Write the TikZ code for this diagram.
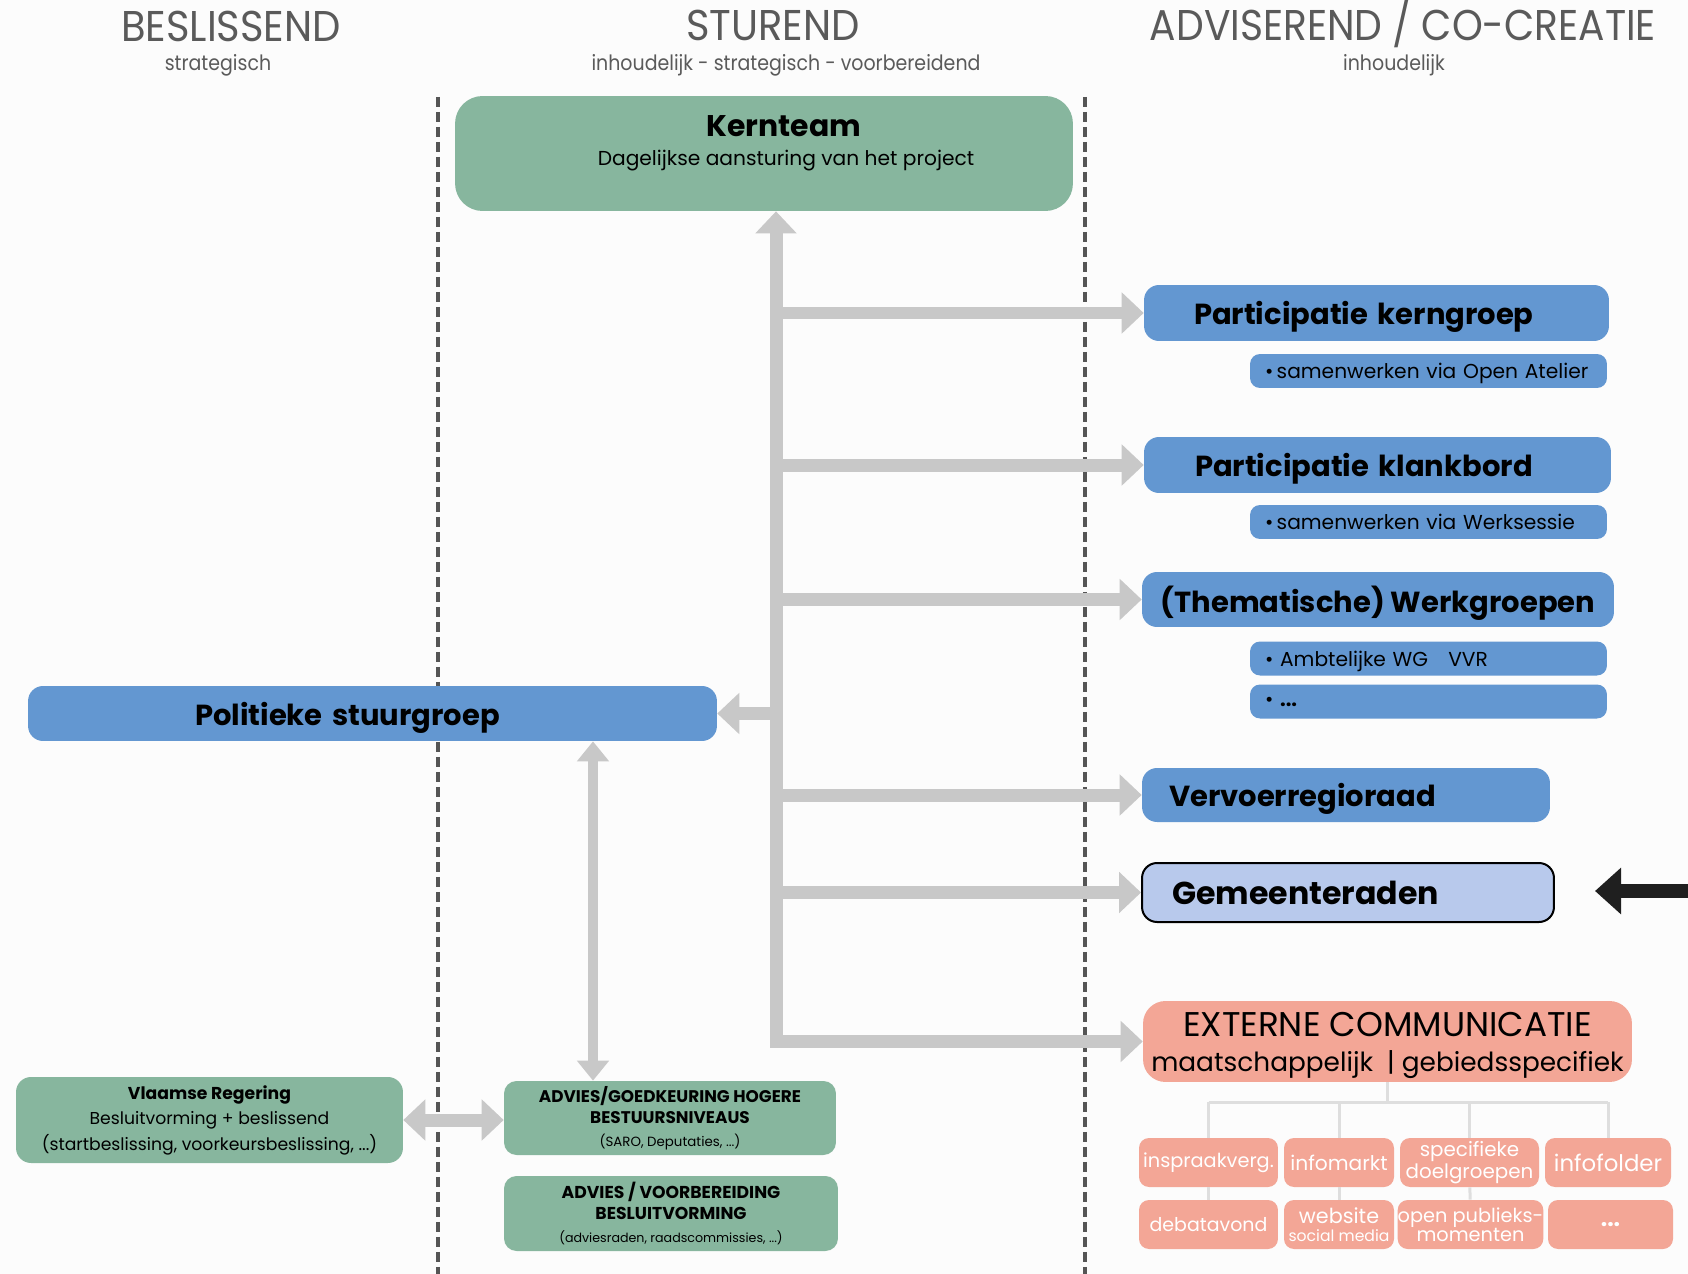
\documentclass[tikz,border=0pt]{standalone}
\usepackage{fontspec}
\setmainfont{Poppins}
\usepackage{graphicx}
\usetikzlibrary{positioning,arrows.meta}
\definecolor{kerngreen}{RGB}{135,182,158}
\definecolor{partblue}{RGB}{99,151,209}
\definecolor{gemblue}{RGB}{184,201,236}
\definecolor{extsalmon}{RGB}{243,166,150}
\definecolor{flowgray}{RGB}{200,200,200}
\definecolor{treegray}{RGB}{222,222,222}
\definecolor{dashgray}{RGB}{85,85,85}
\definecolor{headgray}{RGB}{90,90,90}
\definecolor{pagebg}{RGB}{252,252,252}

\begin{document}
\begin{tikzpicture}[x=0.02cm,y=-0.02cm,
  roundbox/.style={rounded corners=0.3cm,inner sep=0pt},
  greenbox/.style={roundbox,fill=kerngreen,align=center},
  bluebox/.style={roundbox,fill=partblue,text depth=0pt,font=\fontsize{16.5}{19}\selectfont\bfseries},
  subbox/.style={roundbox,rounded corners=0.2cm,fill=partblue,minimum width=7.14cm,minimum height=0.68cm,text width=6.54cm,text depth=0pt,align=left,font=\fontsize{11.5}{13}\selectfont},
  salbox/.style={roundbox,rounded corners=0.2cm,fill=extsalmon,text=white,align=center,minimum height=0.98cm,font=\fontsize{11}{11.5}\selectfont},
  flow/.style={draw=flowgray,line width=0.26cm,-{Triangle[length=0.44cm,width=0.8cm]}},
  flowboth/.style={flow,{Triangle[length=0.44cm,width=0.8cm]}-{Triangle[length=0.44cm,width=0.8cm]}},
  flowthin/.style={draw=flowgray,line width=0.2cm,{Triangle[length=0.4cm,width=0.62cm]}-{Triangle[length=0.4cm,width=0.62cm]}},
  colline/.style={dashgray,line width=0.08cm,dash pattern=on 0.2cm off 0.1cm},
  tree/.style={treegray,line width=0.06cm},
  heading/.style={inner sep=0pt,text=headgray,font=\fontsize{24.5}{26}\selectfont},
  subheading/.style={inner sep=0pt,text=headgray,font=\fontsize{12}{14}\selectfont}]
  \fill[pagebg] (0,0) rectangle (1688,1274);
  \useasboundingbox (0,0) rectangle (1688,1274);

  % column headings
  \node[heading] (hbes) at (231,26) {\scalebox{0.93}[1]{BESLISSEND}};
  \node[subheading] (sbes) at (218,65) {\scalebox{0.9}[1]{strategisch}};
  \node[heading] (hstu) at (773,25) {\scalebox{0.93}[1]{STUREND}};
  \node[subheading] (sstu) at (786,65) {\scalebox{0.9}[1]{inhoudelijk - strategisch - voorbereidend}};
  \node[heading] (hadv) at (1403,24) {\scalebox{0.91}[1]{ADVISEREND / CO-CREATIE}};
  \node[subheading] (sadv) at (1394,65) {\scalebox{0.9}[1]{inhoudelijk}};
  \draw[colline] (438,97) -- (438,1274);
  \draw[colline] (1085,97) -- (1085,1274);

  % sturend
  \node[greenbox,rounded corners=0.55cm,minimum width=12.36cm,minimum height=2.3cm] (kern) at (764,153.5) {};
  \node[font=\fontsize{17}{20}\selectfont\bfseries] (kerntitle) at (784,126) {Kernteam};
  \node[font=\fontsize{11.5}{13}\selectfont] (kernsub) at (786,161) {Dagelijkse aansturing van het project};
  \node[bluebox,minimum width=13.78cm,minimum height=1.1cm,text width=7.1cm,align=left] (pol) at (372.5,713.5) {Politieke stuurgroep};
  \node[greenbox,rounded corners=0.25cm,minimum width=6.64cm,minimum height=1.48cm,font=\fontsize{9.6}{12}\selectfont\bfseries] (advhog) at (670,1118)
    {ADVIES/GOEDKEURING HOGERE\\BESTUURSNIVEAUS\\[1pt]{\fontsize{7.6}{8}\selectfont\mdseries (SARO, Deputaties, ...)}};
  \node[greenbox,rounded corners=0.25cm,minimum width=6.68cm,minimum height=1.5cm,font=\fontsize{9.8}{12}\selectfont\bfseries] (advvb) at (671,1213.5)
    {ADVIES / VOORBEREIDING\\BESLUITVORMING\\[1pt]{\fontsize{7.2}{8}\selectfont\mdseries (adviesraden, raadscommissies, ...)}};

  % beslissend
  \node[greenbox,rounded corners=0.3cm,minimum width=7.74cm,minimum height=1.72cm,font=\fontsize{9.8}{14.5}\selectfont] (vr) at (209.5,1120)
    {{\bfseries Vlaamse Regering}\\Besluitvorming + beslissend\\(startbeslissing, voorkeursbeslissing, ...)};

  % adviserend / co-creatie
  \node[bluebox,minimum width=9.3cm,minimum height=1.12cm,text width=7.3cm,align=left] (pk) at (1376.5,313) {Participatie kerngroep};
  \node[subbox] (pksub) at (1428.5,371) {\textbullet\,samenwerken via Open Atelier};
  \node[bluebox,minimum width=9.34cm,minimum height=1.12cm,text width=7.3cm,align=left] (pkl) at (1377.5,465) {Participatie klankbord};
  \node[subbox] (pklsub) at (1428.5,522) {\textbullet\,samenwerken via Werksessie};
  \node[bluebox,minimum width=9.44cm,minimum height=1.1cm] (wg) at (1378,599.5) {(Thematische) Werkgroepen};
  \node[subbox] (wgsuba) at (1428.5,658.5) {\textbullet\ Ambtelijke WG \ \ VVR};
  \node[subbox] (wgsubb) at (1428.5,701.5) {\textbullet\ \textbf{...}};
  \node[bluebox,minimum width=8.16cm,minimum height=1.08cm,text width=7.08cm,align=left] (vvr) at (1346,795) {Vervoerregioraad};
  \node[bluebox,fill=gemblue,draw=black,line width=0.04cm,minimum width=8.24cm,minimum height=1.18cm,text width=7.04cm,align=left,font=\fontsize{18}{20}\selectfont\bfseries] (gem) at (1348,892.5) {Gemeenteraden};
  \node[roundbox,rounded corners=0.45cm,fill=extsalmon,align=center,text depth=0pt,minimum width=9.78cm,minimum height=1.62cm,font=\fontsize{15}{20}\selectfont] (ext) at (1387.5,1041.5)
    {{\fontsize{19.5}{20}\selectfont EXTERNE COMMUNICATIE}\\maatschappelijk \ | gebiedsspecifiek};

  \node[salbox,minimum width=2.78cm] (c1) at (1208.5,1162.5) {inspraakverg.};
  \node[salbox,minimum width=2.2cm,font=\fontsize{11.5}{12}\selectfont] (c2) at (1339,1162.5) {infomarkt};
  \node[salbox,minimum width=2.78cm,font=\fontsize{11.3}{11}\selectfont] (c3) at (1469.5,1162.5) {specifieke\\doelgroepen};
  \node[salbox,minimum width=2.52cm,font=\fontsize{13}{14}\selectfont] (c4) at (1608,1162.5) {infofolder};
  \node[salbox,minimum width=2.78cm,font=\fontsize{10.8}{11}\selectfont] (d1) at (1208.5,1224.5) {debatavond};
  \node[salbox,minimum width=2.2cm,font=\fontsize{8.9}{10}\selectfont] (d2) at (1339,1224.5) {{\fontsize{11.8}{11}\selectfont website}\\social media};
  \node[salbox,minimum width=2.82cm,font=\fontsize{11}{10.5}\selectfont] (d3) at (1470.5,1224.5) {open publieks-\\momenten};
  \node[salbox,minimum width=2.5cm,font=\fontsize{13}{14}\selectfont\bfseries] (d4) at (1610.5,1224.5) {...};

  \coordinate (treebar) at (0,1102);
  \draw[tree] (ext.south) -- (ext.south |- treebar);
  \draw[tree] (c1.north |- treebar) -- (c4.north |- treebar);
  \foreach \c in {c1,c2,c3,c4} \draw[tree] (\c.north |- treebar) -- (\c.north);
  \draw[tree] (c1) -- (d1);
  \draw[tree] (c2) -- (d2);
  \draw[tree] (c3) -- (d3);

  % gray flow arrows
  \coordinate (trunk) at (776,0);
  \coordinate (link) at (593,0);
  \draw[flowboth,line join=miter] (kern.south -| trunk) -- (ext.west -| trunk) -- (ext.west);
  \draw[flow] (pk.west -| trunk) -- (pk.west);
  \draw[flow] (pkl.west -| trunk) -- (pkl.west);
  \draw[flow] (wg.west -| trunk) -- (wg.west);
  \draw[flow] (vvr.west -| trunk) -- (vvr.west);
  \draw[flow] (gem.west -| trunk) -- (gem.west);
  \draw[flow] (pol.east -| trunk) -- (pol.east);
  \draw[flowthin] (pol.south -| link) -- (advhog.north -| link);
  \draw[flowboth] (vr.east) -- (vr.east -| advhog.west);

  \coordinate (pointer) at (1688,891);
  \coordinate (pointertip) at (1595,891);
  \draw[black!88,line width=0.28cm,-{Triangle[length=0.52cm,width=0.9cm]}] (pointer) -- (pointertip);
\end{tikzpicture}
\end{document}
